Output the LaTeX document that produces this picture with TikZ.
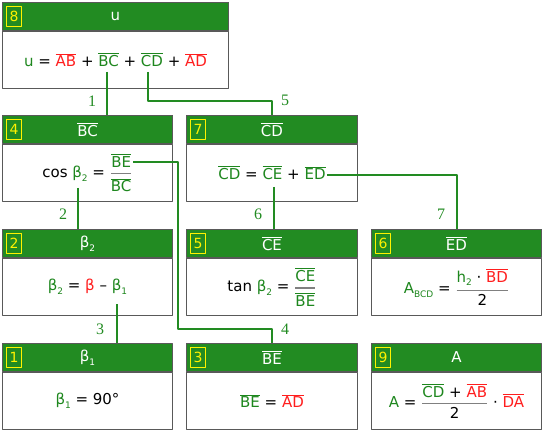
\documentclass[tikz,border=0pt]{standalone}
\usepackage{amsmath}
\usepackage{fontspec}
\setsansfont{DejaVu Sans}
\newfontfamily\labfont{Liberation Serif}
\usetikzlibrary{positioning}
\definecolor{hdgreen}{RGB}{34,139,34}
\definecolor{fmgreen}{RGB}{30,135,30}
\definecolor{fmred}{RGB}{255,30,30}
\newcommand{\ov}[1]{$\overline{\mbox{#1}}$}
\newcommand{\sbs}[1]{\raisebox{-0.45ex}{\fontsize{9}{9}\selectfont #1}}
\newcommand{\G}[1]{\textcolor{fmgreen}{#1}}
\newcommand{\R}[1]{\textcolor{fmred}{#1}}
\newcommand{\frc}[2]{{\color{gray}$\genfrac{}{}{1.2pt}{0}{\mbox{\color{black}#1}}{\mbox{\color{black}#2}}$}}
% card: name, number, x, y, width, header, formula
\newcommand{\card}[7]{%
  \node[head, minimum width=#5, anchor=north west] (h#1) at (#3,#4) {#6};
  \node[numbox, right=4pt of h#1.west] (n#1) {#2};
  \node[body, minimum width=#5, anchor=north] (b#1) at (h#1.south) {#7};}
\tikzset{
  head/.style={draw=black!65, line width=1pt, fill=hdgreen, text=white, minimum height=28pt, inner sep=0pt, font=\sffamily\fontsize{15}{18}\selectfont},
  body/.style={draw=black!65, line width=1pt, fill=white, minimum height=57pt, inner sep=0pt, font=\sffamily\fontsize{15}{18}\selectfont},
  numbox/.style={draw=yellow, text=yellow, line width=1pt, minimum width=15pt, minimum height=20pt, inner sep=0pt, font=\sffamily\fontsize{14}{16}\selectfont},
  link/.style={draw=hdgreen, line width=2pt},
  lab/.style={text=hdgreen, font=\labfont\fontsize{16}{16}\selectfont}
}
\begin{document}
\begin{tikzpicture}[x=1pt, y=-1pt, line join=round]
\useasboundingbox (0,0) rectangle (543,430);
\card{8}{8}{2}{2}{226pt}{u}{\G{u} = \R{\ov{AB}} + \G{\ov{BC}} + \G{\ov{CD}} + \R{\ov{AD}}}
\card{4}{4}{2}{115}{170pt}{\ov{BC}}{cos \G{β\sbs{2}} = \frc{\G{\ov{BE}}}{\G{\ov{BC}}}}
\card{7}{7}{186}{115}{171pt}{\ov{CD}}{\G{\ov{CD}} = \G{\ov{CE}} + \G{\ov{ED}}}
\card{2}{2}{2}{229}{170pt}{β\sbs{2}}{\G{β\sbs{2}} = \R{β} – \G{β\sbs{1}}}
\card{5}{5}{186}{229}{171pt}{\ov{CE}}{tan \G{β\sbs{2}} = \frc{\G{\ov{CE}}}{\G{\ov{BE}}}}
\card{6}{6}{371}{229}{170pt}{\ov{ED}}{\G{A\sbs{BCD}} = \frc{\G{h\sbs{2}} · \R{\ov{BD}}}{2}}
\card{1}{1}{2}{343}{170pt}{β\sbs{1}}{\G{β\sbs{1}} = 90°}
\card{3}{3}{186}{343}{171pt}{\ov{BE}}{\G{\ov{BE}} = \R{\ov{AD}}}
\card{9}{9}{371}{343}{170pt}{A}{\G{A} = \frc{\G{\ov{CD}} + \R{\ov{AB}}}{2} · \R{\ov{DA}}}
% start points on the formulas
\coordinate (s1) at (107,72);
\coordinate (s5) at (148,72);
\coordinate (k5) at (148,101);
\coordinate (s2) at (78,188);
\coordinate (s4) at (133,162);
\coordinate (k4) at (178,329);
\coordinate (s6) at (274,187);
\coordinate (s7) at (327,175);
\coordinate (s3) at (117,304);
\draw[link] (s1) -- (s1 |- h4.north);
\draw[link] (s5) -- (k5) -| (h7.north);
\draw[link] (s2) -- (s2 |- h2.north);
\draw[link] (s4) -| (k4) -| (h3.north);
\draw[link] (s6) -- (s6 |- h5.north);
\draw[link] (s7) -| (h6.north);
\draw[link] (s3) -- (s3 |- h1.north);
\node[lab] (l1) at (92,101) {1};
\node[lab] (l2) at (63,214) {2};
\node[lab] (l3) at (100,329) {3};
\node[lab] (l4) at (285,329) {4};
\node[lab] (l5) at (285,100) {5};
\node[lab] (l6) at (258,214) {6};
\node[lab] (l7) at (441,214) {7};
\end{tikzpicture}
\end{document}
